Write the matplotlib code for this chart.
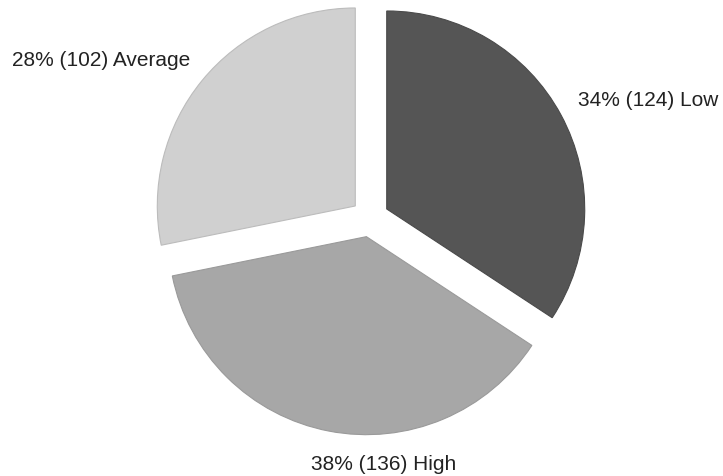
import matplotlib
matplotlib.use("Agg")
import matplotlib.pyplot as plt
import numpy as np

# Survey rating distribution
categories = ["Low", "High", "Average"]
counts = [124, 136, 102]
percents = [34, 38, 28]
colors = ["#555555", "#a7a7a7", "#d0d0d0"]
edge_colors = ["#4a4a4a", "#9a9a9a", "#bcbcbc"]

W, H = 723, 477
fig = plt.figure(figsize=(W / 100, H / 100), dpi=100)
ax = fig.add_axes([0, 0, 1, 1])

cx, cy, r = 370, H - 219, 198
gap = 19  # explode offset in pixel units
wedges, _ = ax.pie(
    counts,
    colors=colors,
    startangle=90,
    counterclock=False,
    explode=[gap] * len(counts),
    center=(cx, cy),
    radius=r,
    frame=True,
    wedgeprops=dict(linewidth=0.8),
)
for w, ec in zip(wedges, edge_colors):
    w.set_edgecolor(ec)
ax.set_xlim(0, W)
ax.set_ylim(0, H)
ax.set_aspect("equal")
ax.axis("off")

# label anchor points (pixels, from top-left)
label_pos = {"Low": (578, 100), "High": (384, 465), "Average": (12, 60)}
label_ha = {"Low": "left", "High": "center", "Average": "left"}
for cat, n, p in zip(categories, counts, percents):
    x, y = label_pos[cat]
    ax.text(x, H - y, f"{p}% ({n}) {cat}", fontsize=15,
            family="Liberation Sans", color="#222222",
            ha=label_ha[cat], va="center")

fig.savefig("out.png", dpi=100, facecolor="white")
